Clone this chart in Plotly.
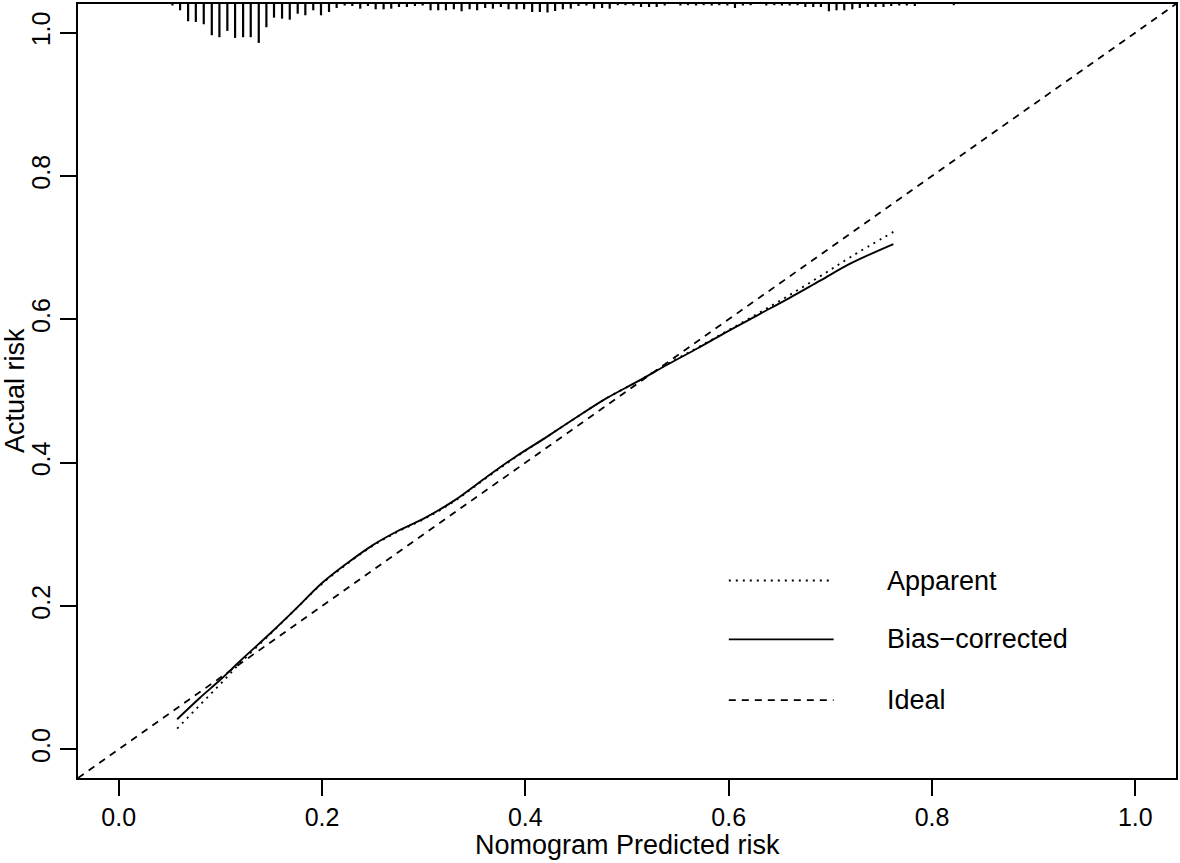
import plotly.graph_objects as go

# ---- data ----
x_range = [-0.04, 1.04]
y_range = [-0.04, 1.04]
tick_vals = [0.0, 0.2, 0.4, 0.6, 0.8, 1.0]
tick_text = ["0.0", "0.2", "0.4", "0.6", "0.8", "1.0"]

curve_x = [0.0575, 0.08, 0.10, 0.12, 0.15, 0.175, 0.20, 0.225, 0.25, 0.275, 0.30, 0.33,
           0.36, 0.39, 0.42, 0.45, 0.48, 0.51, 0.54, 0.57, 0.60, 0.63, 0.66, 0.69, 0.72, 0.762]
bias_corrected = [0.042, 0.072, 0.097, 0.124, 0.163, 0.197, 0.232, 0.260, 0.285, 0.305, 0.322, 0.347,
                  0.378, 0.408, 0.435, 0.463, 0.490, 0.513, 0.537, 0.560, 0.584, 0.607, 0.630, 0.654, 0.678, 0.705]
apparent = [0.029, 0.062, 0.091, 0.121, 0.162, 0.197, 0.231, 0.259, 0.284, 0.304, 0.321, 0.346,
            0.377, 0.407, 0.435, 0.463, 0.490, 0.513, 0.538, 0.561, 0.585, 0.609, 0.634, 0.660, 0.687, 0.722]

# distribution of predicted risk (spike histogram along the top)
rug_x = [0.0529, 0.0604, 0.0683, 0.0759, 0.0837, 0.0916, 0.0991, 0.1069, 0.1145, 0.1224,
         0.1299, 0.1378, 0.1453, 0.1528, 0.1607, 0.1683, 0.1761, 0.1836, 0.1914, 0.1990,
         0.2069, 0.2144, 0.2223, 0.2298, 0.2376, 0.2452, 0.2528, 0.2606, 0.2681, 0.2757,
         0.2835, 0.2914, 0.2990, 0.3068, 0.3143, 0.3219, 0.3297, 0.3373, 0.3452, 0.3526,
         0.3605, 0.3681, 0.3759, 0.3835, 0.3914, 0.3988, 0.4067, 0.4143, 0.4218, 0.4293,
         0.4369, 0.4447, 0.4523, 0.4601, 0.4676, 0.4755, 0.4830, 0.4909, 0.4985, 0.5063,
         0.5138, 0.5217, 0.5292, 0.5371, 0.5525, 0.5600, 0.5679, 0.5754, 0.5833, 0.5908,
         0.5987, 0.6062, 0.6140, 0.6216, 0.6370, 0.6449, 0.6524, 0.6600, 0.6678, 0.6754,
         0.6832, 0.6907, 0.6986, 0.7061, 0.7137, 0.7216, 0.7290, 0.7369, 0.7445, 0.7523,
         0.7599, 0.7678, 0.7752, 0.7831, 0.8214]
rug_len = [1.5, 6.3, 17.3, 18, 20.3, 31.3, 33.3, 27, 34, 33.3,
           33.3, 39, 23.3, 13.7, 14.7, 15.7, 9.7, 11.3, 6.3, 11.3,
           8, 4, 1.5, 2, 4.7, 2, 5.3, 5.3, 4.7, 3,
           3, 2, 1.5, 6.3, 6.3, 6.3, 5.3, 7.3, 5.3, 6.3,
           4, 4.7, 3, 5.3, 5.3, 5.3, 8, 8, 8.5, 7,
           5.3, 4.7, 2, 1.5, 4.7, 4, 4.7, 1.2, 1.2, 1.5,
           3, 3, 3, 1.5, 1.5, 1.2, 1.5, 1.2, 1.5, 1.2,
           1.5, 4, 1.5, 1.2, 1.5, 1.2, 1.5, 1.5, 1.2, 3,
           3, 3, 7.3, 6.3, 6.3, 5.3, 4, 3, 3, 3,
           2, 1.5, 1.5, 2, 1.2]  # spike lengths in pixels

legend_labels = ["Apparent", "Bias\u2212corrected", "Ideal"]

# ---- layout constants ----
W, H = 1180, 863
ML, MR, MT, MB = 78, 2, 2, 85
PW, PH = W - ML - MR, H - MT - MB
FONT = "Liberation Sans, Arial, Helvetica, sans-serif"
FS_TICK = 25
FS_TEXT = 27

px_per_y = PH / (y_range[1] - y_range[0])

fig = go.Figure()

# rug spikes
rx, ry = [], []
for xv, ln in zip(rug_x, rug_len):
    rx += [xv, xv, None]
    ry += [y_range[1], y_range[1] - ln / px_per_y, None]
fig.add_trace(go.Scatter(x=rx, y=ry, mode="lines", line=dict(color="black", width=2.2),
                         showlegend=False, hoverinfo="skip"))

# ideal
fig.add_trace(go.Scatter(x=x_range, y=y_range, mode="lines",
                         line=dict(color="black", width=1.8, dash="7px,6px"),
                         showlegend=False))
# apparent
fig.add_trace(go.Scatter(x=curve_x, y=apparent, mode="lines",
                         line=dict(color="black", width=1.8, dash="2px,5px", shape="spline"),
                         showlegend=False))
# bias-corrected
fig.add_trace(go.Scatter(x=curve_x, y=bias_corrected, mode="lines",
                         line=dict(color="black", width=1.9, shape="spline"),
                         showlegend=False))

axis_common = dict(showgrid=False, zeroline=False, showline=True, mirror=True,
                   linecolor="black", linewidth=2, ticks="outside", ticklen=16,
                   tickwidth=1.8, tickcolor="black",
                   tickvals=tick_vals, ticktext=tick_text,
                   tickfont=dict(family=FONT, size=FS_TICK, color="black"))

fig.update_layout(
    width=W, height=H,
    margin=dict(l=ML, r=MR, t=MT, b=MB),
    paper_bgcolor="white", plot_bgcolor="white",
    showlegend=False,
    xaxis=dict(range=x_range, **axis_common),
    yaxis=dict(range=y_range, tickangle=-90, **axis_common),
)

# axis titles
fig.add_annotation(text="Nomogram Predicted risk", xref="paper", yref="paper",
                   x=0.5, y=0, xanchor="center", yanchor="middle", yshift=-67,
                   showarrow=False, font=dict(family=FONT, size=FS_TEXT, color="black"))
fig.add_annotation(text="Actual risk", xref="paper", yref="paper",
                   x=0, y=0.5, xanchor="center", yanchor="middle", xshift=-63,
                   textangle=-90, showarrow=False,
                   font=dict(family=FONT, size=FS_TEXT, color="black"))

# legend (drawn manually, R style)
leg_rows_px = [580, 639, 700]
leg_dash = ["2px,5px", "solid", "7px,6px"]
for lab, ypx, dsh in zip(legend_labels, leg_rows_px, leg_dash):
    yp = (MT + PH - ypx) / PH
    fig.add_shape(type="line", xref="paper", yref="paper",
                  x0=(730 - ML) / PW, x1=(835 - ML) / PW, y0=yp, y1=yp,
                  line=dict(color="black", width=1.8, dash=dsh))
    fig.add_annotation(text=lab, xref="paper", yref="paper", x=(886 - ML) / PW, y=yp,
                       xanchor="left", yanchor="middle", showarrow=False,
                       font=dict(family=FONT, size=FS_TEXT, color="black"))

fig.write_html("out.html",
               config={"displayModeBar": False},
               post_script="document.body.style.margin='0px';document.body.style.overflow='hidden';")
